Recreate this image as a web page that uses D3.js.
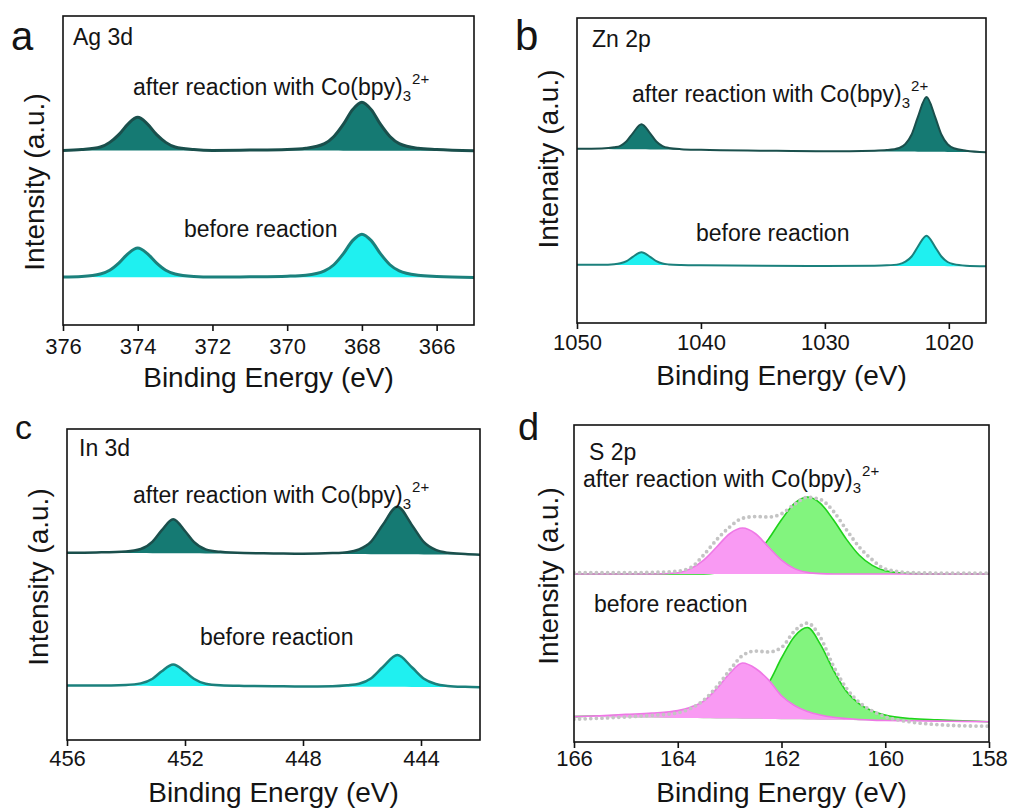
<!DOCTYPE html>
<html>
<head>
<meta charset="utf-8">
<script src="https://cdn.jsdelivr.net/npm/d3@7"></script>
<style>
  body { margin: 0; background: #fff; }
  text { font-family: "Liberation Sans", Arial, sans-serif; fill: #141414; }
</style>
</head>
<body>
<svg id="fig" width="1013" height="812"></svg>
<script>
// ---- data (intensity in arbitrary units, 0-100 per panel) ----
const agEnergy = [376, 375.5, 375, 374.75, 374.5, 374.25, 374, 373.75, 373.5, 373.25, 373, 372.5, 372, 371, 370, 369.5, 369, 368.75, 368.5, 368.25, 368, 367.75, 367.5, 367.25, 367, 366.5, 366, 365];
const agAfter = [56.5, 56.8, 57.6, 59.1, 61.7, 65.2, 67.2, 65.2, 61.7, 59.1, 57.6, 56.8, 56.5, 56.6, 56.8, 57.2, 58.7, 61.0, 64.9, 69.7, 72.1, 69.7, 64.9, 61.0, 58.7, 57.2, 56.8, 56.4];
const agBefore = [15.5, 15.7, 16.5, 17.7, 20.1, 23.2, 24.9, 23.2, 20.1, 17.7, 16.5, 15.7, 15.5, 15.6, 15.8, 16.1, 17.5, 19.5, 23.0, 27.3, 29.4, 27.3, 23.0, 19.5, 17.5, 16.1, 15.7, 15.4];
const agTicks = [376, 374, 372, 370, 368, 366];

const znEnergy = [1050, 1048, 1047, 1046.5, 1046, 1045.5, 1044.8, 1044.1, 1043.6, 1043.1, 1042.6, 1041.6, 1040, 1035, 1030, 1026, 1025, 1024, 1023.5, 1023, 1022.5, 1021.8, 1021.1, 1020.6, 1020.1, 1019.6, 1018.6, 1017];
const znAfter = [57.1, 57.2, 57.6, 58.1, 59.6, 62.2, 65.2, 62.2, 59.5, 58.0, 57.4, 57.0, 56.8, 56.5, 56.3, 56.5, 56.7, 57.4, 58.7, 61.8, 67.5, 74.1, 67.5, 61.8, 58.6, 57.3, 56.5, 56.0];
const znBefore = [19.1, 19.1, 19.3, 19.6, 20.3, 21.7, 23.2, 21.7, 20.3, 19.5, 19.2, 19.0, 18.9, 18.8, 18.7, 18.8, 18.9, 19.3, 20.1, 21.8, 25.0, 28.6, 24.9, 21.8, 20.0, 19.3, 18.8, 18.6];
const znTicks = [1050, 1040, 1030, 1020];

const inEnergy = [456, 455, 454, 453.5, 453.1, 452.8, 452.4, 452.0, 451.7, 451.3, 450.8, 450, 449, 448, 447, 446.5, 446.1, 445.7, 445.3, 444.8, 444.3, 443.9, 443.5, 443.1, 442.5, 442];
const inAfter = [60.2, 60.3, 60.6, 61.4, 63.8, 67.3, 71.0, 67.2, 63.7, 61.3, 60.5, 60.1, 60.0, 59.9, 60.1, 60.4, 61.3, 63.7, 69.1, 75.0, 69.0, 63.6, 61.1, 60.2, 59.8, 59.6];
const inBefore = [17.5, 17.5, 17.7, 18.2, 19.7, 22.0, 24.3, 22.0, 19.7, 18.1, 17.6, 17.4, 17.3, 17.2, 17.3, 17.6, 18.1, 19.8, 23.4, 27.3, 23.3, 19.7, 18.0, 17.4, 17.1, 17.0];
const inTicks = [456, 452, 448, 444];

const sEnergy = [166, 165.5, 165, 164.5, 164, 163.75, 163.5, 163.25, 163, 162.75, 162.5, 162.25, 162, 161.75, 161.5, 161.25, 161, 160.75, 160.5, 160.25, 160, 159.5, 159, 158.5, 158];
const sAfterPink = [53.0, 53.0, 53.0, 53.0, 53.4, 54.7, 57.4, 61.5, 65.7, 67.5, 65.7, 61.5, 57.4, 54.7, 53.5, 53.1, 53.0, 53.0, 53.0, 53.0, 53.0, 53.0, 53.0, 53.0, 53.0];
const sAfterGreen = [53.0, 53.0, 53.0, 53.0, 53.0, 53.0, 53.0, 53.3, 54.0, 55.7, 58.9, 64.0, 70.1, 75.3, 77.3, 75.3, 70.1, 64.0, 58.9, 55.7, 54.0, 53.1, 53.0, 53.0, 53.0];
const sAfterRaw = [53.4, 53.4, 53.4, 53.5, 53.9, 55.0, 59.0, 63.8, 67.8, 70.6, 71.1, 71.0, 72.0, 75.0, 77.2, 76.5, 72.8, 67.0, 61.5, 57.5, 54.6, 53.4, 53.3, 53.3, 53.3];
const sBeforePink = [8.0, 8.3, 8.7, 9.1, 9.9, 11.0, 12.9, 16.8, 21.6, 24.9, 23.2, 19.6, 14.6, 11.5, 9.6, 8.5, 7.8, 7.4, 7.1, 6.9, 6.8, 6.7, 6.6, 6.5, 6.4];
const sBeforeGreen = [8.0, 8.2, 8.4, 8.6, 8.9, 9.2, 9.6, 10.2, 11.0, 12.3, 14.5, 18.6, 26.5, 33.3, 36.1, 30.8, 22.7, 16.0, 12.0, 9.8, 8.5, 7.4, 7.0, 6.7, 6.4];
const sBeforeRaw = [7.2, 7.5, 7.9, 8.4, 9.2, 10.6, 13.2, 17.4, 22.6, 27.3, 28.7, 28.4, 29.8, 35.0, 37.5, 33.0, 24.0, 17.0, 12.5, 9.8, 8.0, 6.3, 5.5, 5.1, 5.0];
const sTicks = [166, 164, 162, 160, 158];

// ---- colours ----
const afterFill = '#157a73', afterStroke = '#1a4f4c';
const beforeFill = '#1ff0f0', beforeStroke = '#1b807c';
const pinkFill = '#f99af3', pinkStroke = '#ef78e6';
const greenFill = '#82f47e', greenStroke = '#1fd21b';

let svg = d3.select('#fig');

function drawPanel(p) {
  let x = d3.scaleLinear().domain(p.domain).range([p.left, p.right]);
  let y = d3.scaleLinear().domain([0, 100]).range([p.bottom, p.top]);

  let clipId = 'clip-' + p.key;
  svg.append('clipPath').attr('id', clipId)
    .append('rect')
    .attr('x', p.left).attr('y', p.top)
    .attr('width', p.right - p.left).attr('height', p.bottom - p.top);

  let g = svg.append('g').attr('clip-path', `url(#${clipId})`);

  p.series.forEach((s) => {
    let pts = p.energy.map((e, i) => [e, s.values[i]]);
    let e0 = p.energy[0], e1 = p.energy[p.energy.length - 1];
    let v0 = s.values[0], v1 = s.values[s.values.length - 1];
    // straight background under the peak, from first to last point
    let bg = (e) => v0 + (v1 - v0) * (e - e0) / (e1 - e0);

    if (s.fill) {
      g.append('path').datum(pts)
        .attr('d', d3.area()
          .x((d) => x(d[0]))
          .y0((d) => y(bg(d[0])))
          .y1((d) => y(d[1]))
          .curve(d3.curveMonotoneX))
        .attr('fill', s.fill);
    }
    let line = g.append('path').datum(pts)
      .attr('d', d3.line().x((d) => x(d[0])).y((d) => y(d[1])).curve(d3.curveMonotoneX))
      .attr('fill', 'none')
      .attr('stroke', s.stroke)
      .attr('stroke-width', s.width)
      .attr('stroke-linejoin', 'round');
    if (s.dots) {
      line.attr('stroke-dasharray', '0 5.6').attr('stroke-linecap', 'round');
    }
  });

  // frame
  svg.append('rect')
    .attr('x', p.left).attr('y', p.top)
    .attr('width', p.right - p.left).attr('height', p.bottom - p.top)
    .attr('fill', 'none').attr('stroke', '#111').attr('stroke-width', 1.6);

  let axis = svg.append('g')
    .attr('transform', `translate(0,${p.bottom})`)
    .call(d3.axisBottom(x).tickValues(p.ticks).tickSize(6).tickPadding(p.pad).tickFormat(d3.format('d')));
  axis.select('.domain').remove();
  axis.selectAll('.tick line').attr('stroke', '#111').attr('stroke-width', 1.6);
  axis.selectAll('.tick text')
    .style('font-size', '22px')
    .style('font-family', '"Liberation Sans", Arial, sans-serif')
    .attr('fill', '#141414');

  // axis titles
  svg.append('text')
    .attr('x', (p.left + p.right) / 2).attr('y', p.titleY)
    .attr('text-anchor', 'middle').style('font-size', '28px')
    .text('Binding Energy (eV)');
  svg.append('text')
    .attr('transform', `translate(${p.ylabX},${p.ylabY}) rotate(-90)`)
    .attr('text-anchor', 'middle').style('font-size', '28px')
    .text(p.ylabel);

  // panel letter and element
  svg.append('text').attr('x', p.letter[0]).attr('y', p.letter[1])
    .style('font-size', p.letter[2] + 'px').text(p.key);
  svg.append('text').attr('x', p.elem[0]).attr('y', p.elem[1])
    .style('font-size', '23px').text(p.elemText);

  // annotations
  let t = svg.append('text').attr('x', p.after[0]).attr('y', p.after[1]).style('font-size', '23px');
  t.append('tspan').text('after reaction with Co(bpy)');
  t.append('tspan').attr('dy', 6).style('font-size', '15px').text('3');
  t.append('tspan').attr('dy', -17).attr('dx', 1).style('font-size', '15px').text('2+');

  svg.append('text').attr('x', p.before[0]).attr('y', p.before[1])
    .style('font-size', '23px').text('before reaction');
}

const panels = [
  {
    key: 'a', elemText: 'Ag 3d', ylabel: 'Intensity (a.u.)',
    domain: [376, 365], left: 63, right: 474, top: 16, bottom: 325, pad: 7,
    energy: agEnergy, ticks: agTicks,
    series: [
      { values: agAfter, fill: afterFill, stroke: afterStroke, width: 3 },
      { values: agBefore, fill: beforeFill, stroke: beforeStroke, width: 3 },
    ],
    titleY: 387, ylabX: 44, ylabY: 182,
    letter: [11, 50, 40], elem: [73, 45], after: [133, 95], before: [184, 237],
  },
  {
    key: 'b', elemText: 'Zn 2p', ylabel: 'Intenaity (a.u.)',
    domain: [1050, 1017], left: 577, right: 986, top: 18, bottom: 323, pad: 5,
    energy: znEnergy, ticks: znTicks,
    series: [
      { values: znAfter, fill: afterFill, stroke: afterStroke, width: 2 },
      { values: znBefore, fill: beforeFill, stroke: beforeStroke, width: 2 },
    ],
    titleY: 385, ylabX: 558, ylabY: 159,
    letter: [515, 50, 42], elem: [592, 47], after: [632, 102], before: [696, 241],
  },
  {
    key: 'c', elemText: 'In 3d', ylabel: 'Intensity (a.u.)',
    domain: [456, 442], left: 67, right: 480, top: 429, bottom: 740, pad: 4,
    energy: inEnergy, ticks: inTicks,
    series: [
      { values: inAfter, fill: afterFill, stroke: afterStroke, width: 2.5 },
      { values: inBefore, fill: beforeFill, stroke: beforeStroke, width: 2.5 },
    ],
    titleY: 802, ylabX: 48, ylabY: 577,
    letter: [15, 439, 34], elem: [79, 456], after: [133, 503], before: [200, 645],
  },
  {
    key: 'd', elemText: 'S 2p', ylabel: 'Intensity (a.u.)',
    domain: [166, 158], left: 574, right: 989, top: 425, bottom: 742, pad: 2,
    energy: sEnergy, ticks: sTicks,
    series: [
      { values: sAfterGreen, fill: greenFill, stroke: greenStroke, width: 1.6 },
      { values: sAfterPink, fill: pinkFill, stroke: pinkStroke, width: 1.6 },
      { values: sAfterRaw, stroke: '#c4c4c4', width: 3.8, dots: true },
      { values: sBeforeGreen, fill: greenFill, stroke: greenStroke, width: 1.6 },
      { values: sBeforePink, fill: pinkFill, stroke: pinkStroke, width: 1.6 },
      { values: sBeforeRaw, stroke: '#c4c4c4', width: 3.8, dots: true },
    ],
    titleY: 802, ylabX: 558, ylabY: 576,
    letter: [518, 440, 38], elem: [589, 460], after: [583, 487], before: [594, 612],
  },
];

panels.forEach(drawPanel);
</script>
</body>
</html>
